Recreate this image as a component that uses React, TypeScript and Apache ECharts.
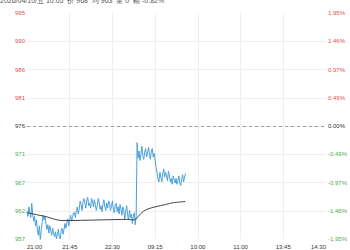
import React, { useEffect, useRef } from "react";
import * as echarts from "echarts";

const BASE = 976;
const TITLE = "2026/04/10/五 10:05  价 968  均 963  量 0  幅 -0.82%";
const xLabels = ["21:00", "21:45", "22:30", "09:15", "10:00", "11:00", "13:45", "14:30"];
const xMax = 315;
const xStep = 45;
const yHalf = 19;
const yStep = 4.75;

// one value per minute from 21:00
const price = [
  961.6, 960.8, 962.4, 961.4, 960.6, 963.0, 961.2, 960.0, 960.8, 959.2,
  960.2, 958.4, 957.6, 959.2, 956.9, 958.4, 959.8, 961.0, 960.2, 960.8,
  959.6, 958.6, 959.4, 958.0, 959.2, 958.4, 957.6, 958.8, 958.0, 957.4,
  958.2, 957.0, 957.8, 958.6, 957.4, 957.0, 958.4, 958.8, 957.8, 958.6,
  959.6, 958.8, 959.8, 960.4, 959.2, 960.2, 961.0, 960.0, 960.6, 961.4,
  961.4, 960.6, 961.8, 962.4, 961.2, 962.0, 963.4, 962.8, 961.8, 963.2,
  963.8, 963.0, 962.2, 963.6, 964.0, 962.6, 963.0, 962.2, 963.8, 963.4,
  962.4, 963.6, 962.8, 961.8, 962.6, 963.8, 963.2, 962.0, 962.6, 961.6,
  962.8, 963.6, 962.4, 961.8, 963.0, 962.2, 963.4, 963.0, 961.8, 962.6,
  963.4, 962.0, 961.4, 962.8, 963.0, 961.6, 962.4, 961.2, 962.8, 962.0,
  961.0, 962.4, 961.8, 960.4, 961.6, 962.6, 961.0, 960.2, 961.8, 960.6,
  961.2, 959.6, 960.8, 961.4, 959.4, 960.6,
  973.2,
  970.6, 971.8, 970.2, 971.2, 972.6, 971.0, 970.4, 971.6, 972.2, 970.8,
  971.4, 972.4, 971.2, 970.4, 971.8, 972.2, 970.8, 971.4, 970.2, 969.0,
  968.2, 967.0, 966.6, 968.2, 967.4, 966.6, 968.0, 968.8, 967.4, 968.2,
  967.6, 966.8, 968.4, 967.8, 966.6, 967.2, 966.2, 967.6, 967.0, 966.4,
  967.2, 966.2, 966.8, 967.6, 966.4, 966.0, 967.2, 967.8, 966.6, 967.4, 968.0,
];

const avgMinute = [0, 1, 19, 37, 76, 107, 112, 115, 120, 125, 135, 146, 154, 167];
const avgValue = [961.6, 961.4, 960.8, 960.1, 960.2, 960.3, 960.2, 960.4, 961.3, 961.9, 962.4, 962.8, 963.1, 963.3];

const RED = "#e0514d";
const GREEN = "#4cae4c";
const DARK = "#333";
const FONT = "Liberation Sans";

const labelColor = (v: any) => {
  const n = parseFloat(v);
  if (Math.abs(n) < 1e-6) return DARK;
  return n > 0 ? RED : GREEN;
};

export default function App() {
  const ref = useRef<HTMLDivElement>(null);
  useEffect(() => {
    if (!ref.current) return;
    const chart = echarts.init(ref.current, null, { renderer: "svg" });
    const gridLine = { show: true, showMinLine: false, showMaxLine: false, lineStyle: { color: "#eeeeee", width: 1 } };
    chart.setOption({
      animation: false,
      backgroundColor: "#fff",
      textStyle: { fontFamily: FONT },
      graphic: [
        {
          type: "text",
          x: 0,
          y: 0,
          style: { text: TITLE, fontSize: 7, fill: "#555", verticalAlign: "middle", fontFamily: FONT },
        },
      ],
      grid: { left: 27, right: 20, top: 13, bottom: 7 },
      xAxis: {
        type: "value",
        min: 0,
        max: xMax,
        interval: xStep,
        axisLine: { show: false },
        axisTick: { show: false },
        splitLine: gridLine,
        axisLabel: {
          fontSize: 6,
          color: DARK,
          margin: 5,
          showMinLabel: true,
          showMaxLabel: true,
          alignMinLabel: "left",
          alignMaxLabel: "right",
          formatter: (v: number) => xLabels[Math.round(v / xStep)] ?? "",
        },
      },
      yAxis: [
        {
          type: "value",
          position: "left",
          min: -yHalf,
          max: yHalf,
          interval: yStep,
          axisLine: { show: false },
          axisTick: { show: false },
          splitLine: gridLine,
          axisLabel: {
            fontSize: 6,
            margin: 2,
            color: labelColor,
            formatter: (v: number) => (BASE + v).toFixed(0),
          },
        },
        {
          type: "value",
          position: "right",
          min: -yHalf,
          max: yHalf,
          interval: yStep,
          axisLine: { show: false },
          axisTick: { show: false },
          splitLine: { show: false },
          axisLabel: {
            fontSize: 6,
            margin: 2,
            color: labelColor,
            formatter: (v: number) => ((v / BASE) * 100).toFixed(2) + "%",
          },
        },
      ],
      series: [
        {
          type: "line",
          yAxisIndex: 0,
          data: price.map((p, i) => [i, p - BASE]),
          showSymbol: false,
          symbol: "none",
          lineStyle: { color: "#4a9fda", width: 1 },
          markLine: {
            silent: true,
            symbol: "none",
            label: { show: false },
            lineStyle: { color: "#999", type: [3, 3], width: 1 },
            data: [{ yAxis: 0 }],
          },
        },
        {
          type: "line",
          yAxisIndex: 0,
          data: avgMinute.map((t, i) => [t, avgValue[i] - BASE]),
          showSymbol: false,
          symbol: "none",
          smooth: 0.3,
          lineStyle: { color: "#444", width: 1 },
        },
      ],
    });
    return () => chart.dispose();
  }, []);
  return <div ref={ref} style={{ position: "fixed", left: 0, top: 0, width: 350, height: 250 }} />;
}
